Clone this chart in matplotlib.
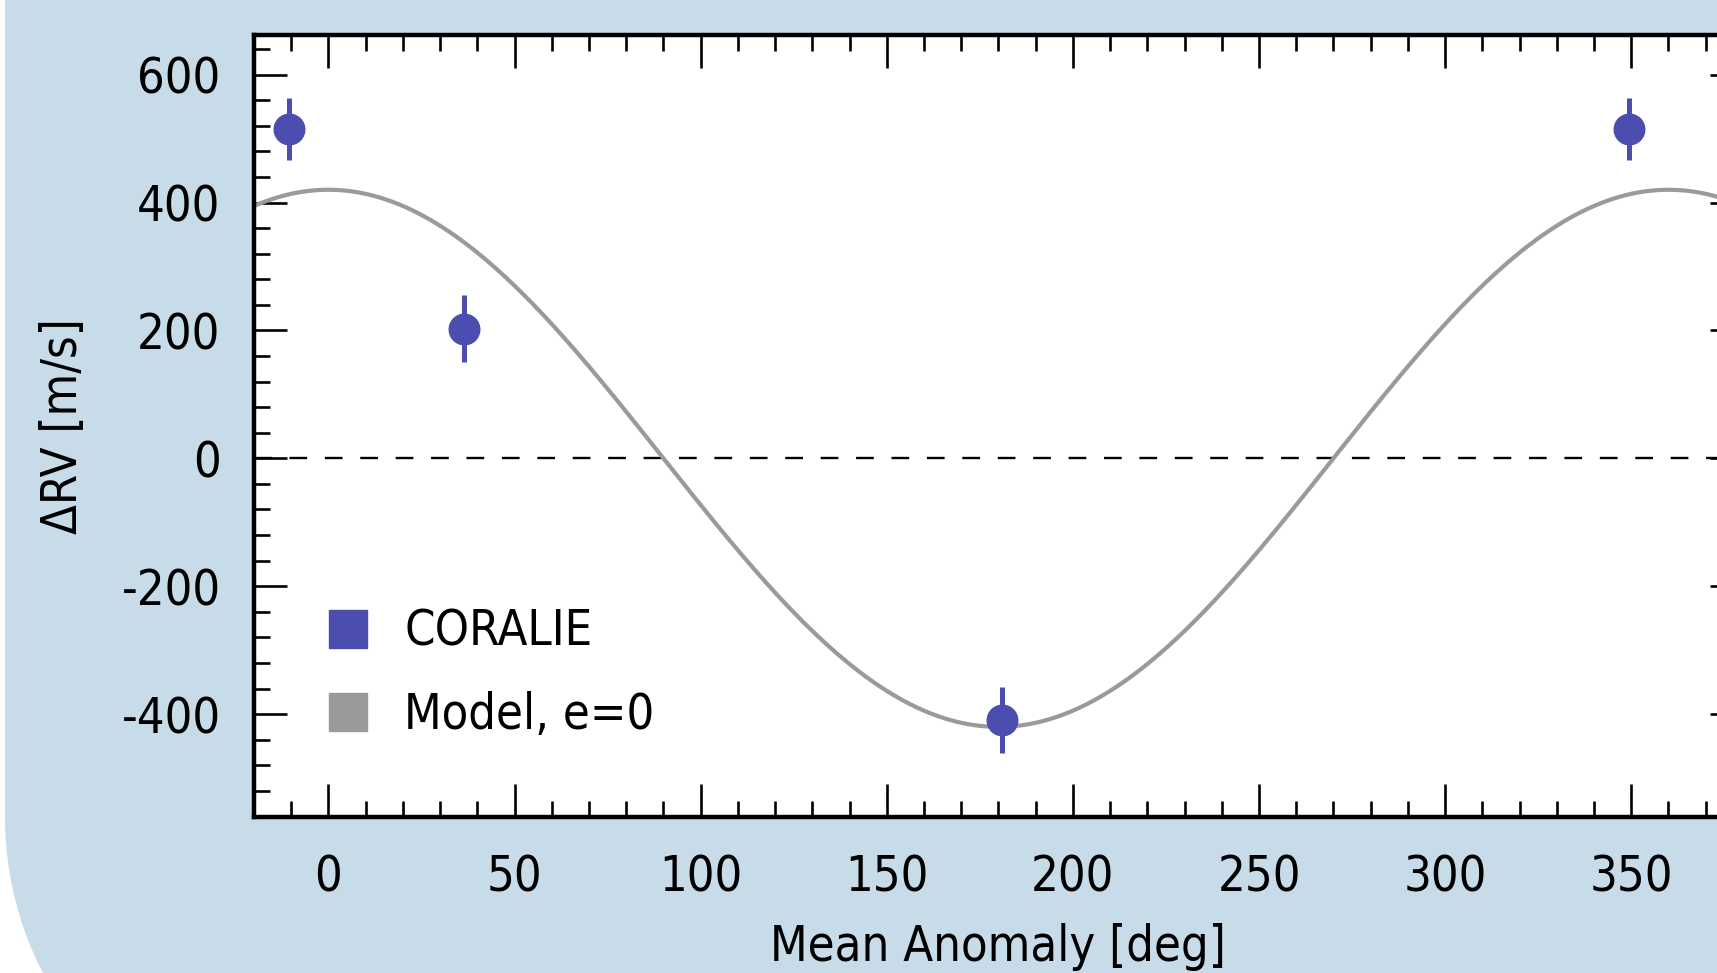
import numpy as np
import matplotlib
matplotlib.use("Agg")
import matplotlib.pyplot as plt
import matplotlib.patches as mpatches
import matplotlib.transforms as mtransforms
from matplotlib.lines import Line2D
from matplotlib.ticker import MultipleLocator

# CORALIE radial velocities, phase folded
mean_anomaly = [-10.5, 36.5, 181.0, 349.5]
delta_rv = [515, 203, -409, 515]
rv_err = [48, 52, 52, 48]

# circular orbit model
model_k = 420.0
model_phase = 0.0

plt.rcParams['font.family'] = 'DejaVu Sans'
plt.rcParams['font.stretch'] = 'condensed'
plt.rcParams['axes.unicode_minus'] = False

blue = '#4b4daf'
grey = '#9a9a9a'
bg = '#c8dbe8'

fig = plt.figure(figsize=(17.17, 9.73), dpi=100)
fig.patch.set_facecolor('white')

# light blue panel, bottom-left corner rounded (pixel coords)
r, cx, cy = 340, 345, 156
t = np.linspace(np.pi, 1.5 * np.pi, 60)
corner = np.column_stack([cx + r * np.cos(t), cy + r * np.sin(t)])
corner = corner[corner[:, 1] >= -5]
verts = np.vstack([[[5, 1000]], [[5, cy]], corner, [[1800, -5]], [[1800, 1000]]])
panel = mpatches.Polygon(verts, closed=True, facecolor=bg, edgecolor='none',
                         transform=mtransforms.IdentityTransform(), zorder=-5)
fig.add_artist(panel)

ax = fig.add_axes([0.1479, 0.1603, 0.8672, 0.8037])
ax.set_facecolor('white')

m = np.linspace(-20, 380, 800)
ax.plot(m, model_k * np.cos(np.radians(m - model_phase)), color=grey, lw=3.0, zorder=2)
ax.axhline(0, color='black', lw=1.7, ls=(0, (7.5, 7.5)), zorder=1)
ax.errorbar(mean_anomaly, delta_rv, yerr=rv_err, fmt='o', color=blue, ms=22,
            elinewidth=3.6, capsize=0, zorder=3)

ax.set_xlim(-20, 380)
ax.set_ylim(-561, 662)
ax.xaxis.set_major_locator(MultipleLocator(50))
ax.xaxis.set_minor_locator(MultipleLocator(10))
ax.yaxis.set_major_locator(MultipleLocator(200))
ax.yaxis.set_minor_locator(MultipleLocator(40))

for s in ax.spines.values():
    s.set_linewidth(3.2)
ax.tick_params(which='both', direction='in', top=True, right=True, width=1.9,
               labelsize=35, colors='black')
ax.tick_params(which='major', length=24)
ax.tick_params(which='minor', length=11.5)
ax.tick_params(axis='x', which='major', pad=26)
ax.tick_params(axis='y', which='major', pad=24)

ax.set_xlabel("Mean Anomaly [deg]", fontsize=35, labelpad=16)
ax.set_ylabel("ΔRV [m/s]", fontsize=35, labelpad=25)

handles = [Line2D([], [], marker='s', ls='none', color=blue, ms=28),
           Line2D([], [], marker='s', ls='none', color=grey, ms=28)]
ax.legend(handles, ["CORALIE", "Model, e=0"], loc='center left',
          bbox_to_anchor=(0.047, 0.184), frameon=False, fontsize=35,
          handlelength=1.0, handletextpad=0.65, labelspacing=0.72,
          borderpad=0, borderaxespad=0)

fig.savefig("out.png", dpi=100)
